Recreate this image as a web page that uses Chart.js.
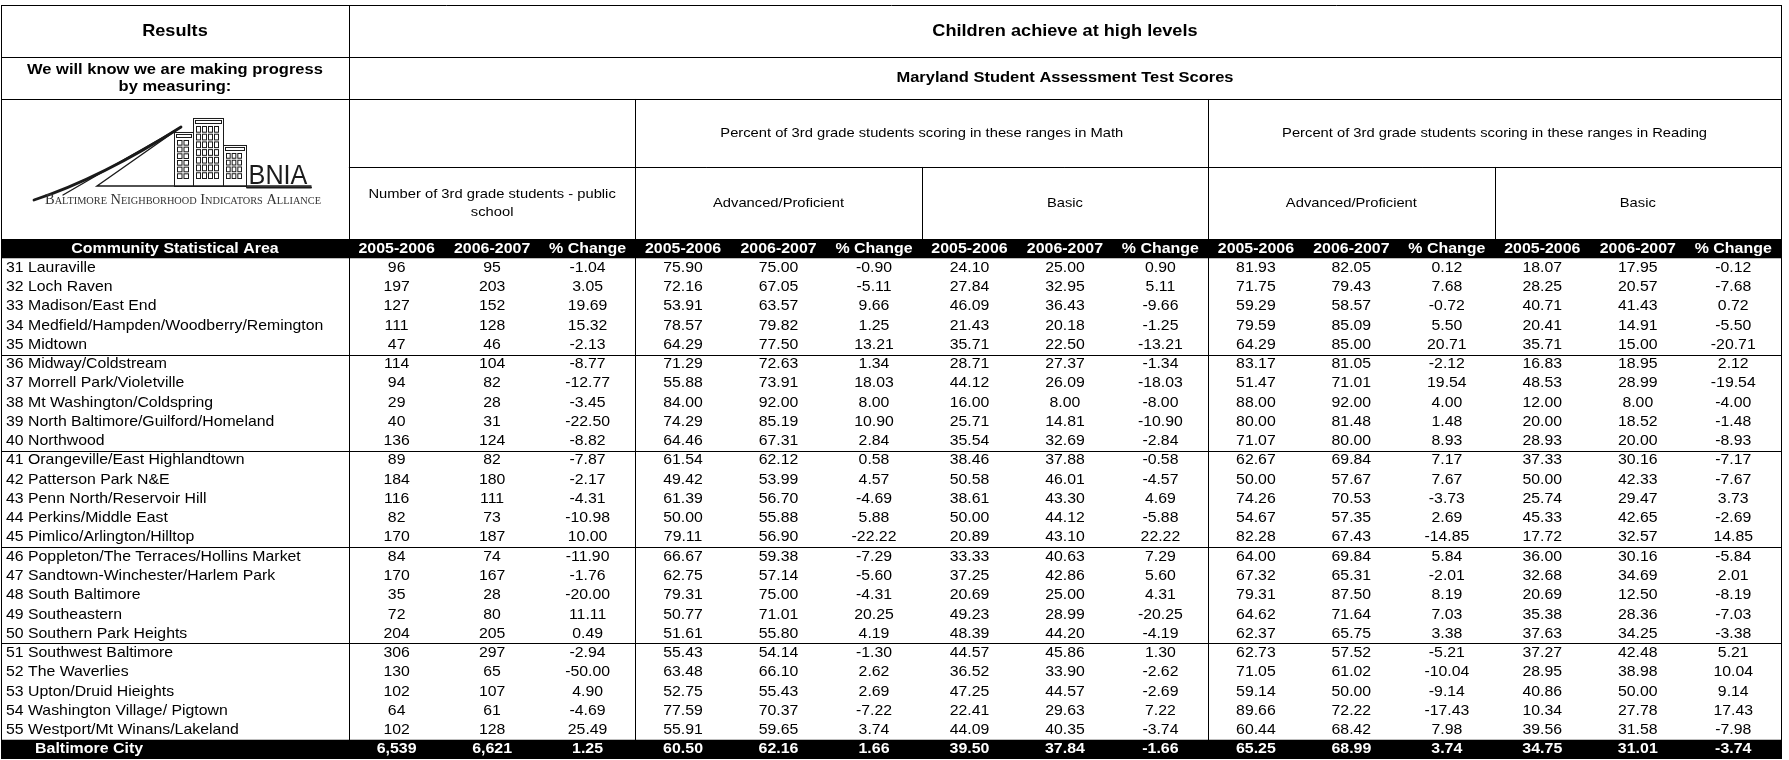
<!DOCTYPE html>
<html>
<head>
<meta charset="utf-8">
<title>Maryland Student Assessment Test Scores</title>
<script src="https://cdn.jsdelivr.net/npm/chart.js@4.4.1/dist/chart.umd.min.js"></script>
<style>
  html, body { margin: 0; padding: 0; background: #fff; }
  canvas { display: block; }
</style>
</head>
<body>
<canvas id="msaTable" width="1789" height="760"></canvas>
<script>
// Community statistical areas (rows)
const csaNames = [
    '31 Lauraville', '32 Loch Raven', '33 Madison/East End',
    '34 Medfield/Hampden/Woodberry/Remington', '35 Midtown',
    '36 Midway/Coldstream', '37 Morrell Park/Violetville', '38 Mt Washington/Coldspring',
    '39 North Baltimore/Guilford/Homeland', '40 Northwood',
    '41 Orangeville/East Highlandtown', '42 Patterson Park N&E', '43 Penn North/Reservoir Hill',
    '44 Perkins/Middle East', '45 Pimlico/Arlington/Hilltop',
    '46 Poppleton/The Terraces/Hollins Market', '47 Sandtown-Winchester/Harlem Park',
    '48 South Baltimore', '49 Southeastern', '50 Southern Park Heights',
    '51 Southwest Baltimore', '52 The Waverlies', '53 Upton/Druid Hieights',
    '54 Washington Village/ Pigtown', '55 Westport/Mt Winans/Lakeland'
];

// Number of 3rd grade students - public school
const students0506 = [96, 197, 127, 111, 47, 114, 94, 29, 40, 136, 89, 184, 116, 82, 170, 84, 170, 35, 72, 204, 306, 130, 102, 64, 102];
const students0607 = [95, 203, 152, 128, 46, 104, 82, 28, 31, 124, 82, 180, 111, 73, 187, 74, 167, 28, 80, 205, 297, 65, 107, 61, 128];
const studentsChange = [-1.04, 3.05, 19.69, 15.32, -2.13, -8.77, -12.77, -3.45, -22.50, -8.82, -7.87, -2.17, -4.31, -10.98, 10.00, -11.90, -1.76, -20.00, 11.11, 0.49, -2.94, -50.00, 4.90, -4.69, 25.49];

// Math - Advanced/Proficient
const mathAdv0506 = [75.90, 72.16, 53.91, 78.57, 64.29, 71.29, 55.88, 84.00, 74.29, 64.46, 61.54, 49.42, 61.39, 50.00, 79.11, 66.67, 62.75, 79.31, 50.77, 51.61, 55.43, 63.48, 52.75, 77.59, 55.91];
const mathAdv0607 = [75.00, 67.05, 63.57, 79.82, 77.50, 72.63, 73.91, 92.00, 85.19, 67.31, 62.12, 53.99, 56.70, 55.88, 56.90, 59.38, 57.14, 75.00, 71.01, 55.80, 54.14, 66.10, 55.43, 70.37, 59.65];
const mathAdvChange = [-0.90, -5.11, 9.66, 1.25, 13.21, 1.34, 18.03, 8.00, 10.90, 2.84, 0.58, 4.57, -4.69, 5.88, -22.22, -7.29, -5.60, -4.31, 20.25, 4.19, -1.30, 2.62, 2.69, -7.22, 3.74];

// Math - Basic
const mathBasic0506 = [24.10, 27.84, 46.09, 21.43, 35.71, 28.71, 44.12, 16.00, 25.71, 35.54, 38.46, 50.58, 38.61, 50.00, 20.89, 33.33, 37.25, 20.69, 49.23, 48.39, 44.57, 36.52, 47.25, 22.41, 44.09];
const mathBasic0607 = [25.00, 32.95, 36.43, 20.18, 22.50, 27.37, 26.09, 8.00, 14.81, 32.69, 37.88, 46.01, 43.30, 44.12, 43.10, 40.63, 42.86, 25.00, 28.99, 44.20, 45.86, 33.90, 44.57, 29.63, 40.35];
const mathBasicChange = [0.90, 5.11, -9.66, -1.25, -13.21, -1.34, -18.03, -8.00, -10.90, -2.84, -0.58, -4.57, 4.69, -5.88, 22.22, 7.29, 5.60, 4.31, -20.25, -4.19, 1.30, -2.62, -2.69, 7.22, -3.74];

// Reading - Advanced/Proficient
const readAdv0506 = [81.93, 71.75, 59.29, 79.59, 64.29, 83.17, 51.47, 88.00, 80.00, 71.07, 62.67, 50.00, 74.26, 54.67, 82.28, 64.00, 67.32, 79.31, 64.62, 62.37, 62.73, 71.05, 59.14, 89.66, 60.44];
const readAdv0607 = [82.05, 79.43, 58.57, 85.09, 85.00, 81.05, 71.01, 92.00, 81.48, 80.00, 69.84, 57.67, 70.53, 57.35, 67.43, 69.84, 65.31, 87.50, 71.64, 65.75, 57.52, 61.02, 50.00, 72.22, 68.42];
const readAdvChange = [0.12, 7.68, -0.72, 5.50, 20.71, -2.12, 19.54, 4.00, 1.48, 8.93, 7.17, 7.67, -3.73, 2.69, -14.85, 5.84, -2.01, 8.19, 7.03, 3.38, -5.21, -10.04, -9.14, -17.43, 7.98];

// Reading - Basic
const readBasic0506 = [18.07, 28.25, 40.71, 20.41, 35.71, 16.83, 48.53, 12.00, 20.00, 28.93, 37.33, 50.00, 25.74, 45.33, 17.72, 36.00, 32.68, 20.69, 35.38, 37.63, 37.27, 28.95, 40.86, 10.34, 39.56];
const readBasic0607 = [17.95, 20.57, 41.43, 14.91, 15.00, 18.95, 28.99, 8.00, 18.52, 20.00, 30.16, 42.33, 29.47, 42.65, 32.57, 30.16, 34.69, 12.50, 28.36, 34.25, 42.48, 38.98, 50.00, 27.78, 31.58];
const readBasicChange = [-0.12, -7.68, 0.72, -5.50, -20.71, 2.12, -19.54, -4.00, -1.48, -8.93, -7.17, -7.67, 3.73, -2.69, 14.85, -5.84, 2.01, -8.19, -7.03, -3.38, 5.21, 10.04, 9.14, 17.43, -7.98];

// Baltimore City totals, same column order
const cityTotals = [6539, 6621, 1.25, 60.50, 62.16, 1.66, 39.50, 37.84, -1.66, 65.25, 68.99, 3.74, 34.75, 31.01, -3.74];

// Header labels
const columnHeaders = ['2005-2006', '2006-2007', '% Change'];
const groupTitles = ['Advanced/Proficient', 'Basic', 'Advanced/Proficient', 'Basic'];
const subjectTitles = [
    'Percent of 3rd grade students scoring in these ranges in Math',
    'Percent of 3rd grade students scoring in these ranges in Reading'
];

const valueColumns = [
    students0506, students0607, studentsChange,
    mathAdv0506, mathAdv0607, mathAdvChange,
    mathBasic0506, mathBasic0607, mathBasicChange,
    readAdv0506, readAdv0607, readAdvChange,
    readBasic0506, readBasic0607, readBasicChange
];

// Layout in scale units: one unit = one numeric column / one table row
const COL0_UNITS = 3.644;
const HEAD_UNITS = 12.15;
const LINE_TITLE = -9.45;
const LINE_SUBTITLE = -7.27;
const LINE_SUBJECT = -3.74;
const ROW_COUNT = csaNames.length + 2;
const FONT = '"Liberation Sans", Arial, sans-serif';
const STRETCH = 1.1;

function formatCell(col, value) {
    if (col < 2) return value.toLocaleString('en-US');
    return value.toFixed(2);
}

function put(ctx, text, x, y, opts = {}) {
    const { size = 14, bold = false, align = 'center', color = '#000', stretch = STRETCH } = opts;
    ctx.save();
    ctx.font = `${bold ? 'bold ' : ''}${size}px ${FONT}`;
    ctx.fillStyle = color;
    ctx.textAlign = align;
    ctx.textBaseline = 'middle';
    ctx.translate(x, y);
    ctx.scale(stretch, 1);
    ctx.fillText(text, 0, 0);
    ctx.restore();
}

function hLine(ctx, x0, x1, y) {
    const yp = Math.round(y) + 0.5;
    ctx.beginPath();
    ctx.moveTo(x0, yp);
    ctx.lineTo(x1, yp);
    ctx.stroke();
}

function vLine(ctx, x, y0, y1) {
    const xp = Math.round(x) + 0.5;
    ctx.beginPath();
    ctx.moveTo(xp, y0);
    ctx.lineTo(xp, y1);
    ctx.stroke();
}

function drawLogo(ctx, left, top) {
    ctx.save();
    ctx.translate(left, top);
    ctx.strokeStyle = '#1a1a1a';
    ctx.fillStyle = '#1a1a1a';
    ctx.lineCap = 'round';

    // swoosh
    ctx.lineWidth = 2.8;
    ctx.beginPath();
    ctx.moveTo(33, 101);
    ctx.quadraticCurveTo(100, 79, 180, 28);
    ctx.stroke();
    ctx.lineWidth = 1.4;
    ctx.beginPath();
    ctx.moveTo(180, 28);
    ctx.quadraticCurveTo(120, 62, 62, 96);
    ctx.stroke();
    ctx.beginPath();
    ctx.moveTo(180, 28);
    ctx.lineTo(96, 87);
    ctx.lineTo(310, 87);
    ctx.stroke();
    ctx.lineWidth = 2;
    hLine(ctx, 246, 310, 88);

    // buildings
    ctx.lineWidth = 1;
    const buildings = [[173, 33, 19, 54, 2, 6], [192, 19, 30, 68, 4, 7], [222, 46, 23, 41, 3, 4]];
    buildings.forEach(([bx, by, bw, bh, cols, rows]) => {
        ctx.strokeRect(bx + 0.5, by + 0.5, bw, bh);
        ctx.strokeRect(bx + 2.5, by + 2.5, bw - 4, 3);
        const ww = (bw - 6) / cols;
        const wh = (bh - 14) / rows;
        for (let r = 0; r < rows; r++) {
            for (let c = 0; c < cols; c++) {
                ctx.strokeRect(bx + 3.5 + c * ww, by + 8.5 + r * wh, ww - 2, wh - 2);
            }
        }
    });

    // lettering
    put(ctx, 'BNIA', 277, 77, { size: 28, color: '#1a1a1a', stretch: 0.9 });
    ctx.font = 'small-caps 14px "Liberation Serif", serif';
    const caption = 'Baltimore Neighborhood Indicators Alliance';
    const w = ctx.measureText(caption).width;
    ctx.save();
    ctx.translate(44, 101);
    ctx.scale(276 / w, 1);
    ctx.textBaseline = 'middle';
    ctx.fillStyle = '#333';
    ctx.fillText(caption, 0, 0);
    ctx.restore();
    ctx.restore();
}

const tablePainter = {
    id: 'tablePainter',
    beforeDatasetsDraw(chart) {
        const { ctx, chartArea: area, scales: { x, y } } = chart;
        const px = v => x.getPixelForValue(v);
        const py = v => y.getPixelForValue(v);
        const L = area.left, R = area.right;
        const c0 = px(0);

        ctx.save();
        drawLogo(ctx, L, py(LINE_SUBTITLE));

        ctx.fillStyle = '#000';
        [0, ROW_COUNT - 1].forEach(r => ctx.fillRect(L, py(r), R - L + 1, py(r + 1) - py(r)));

        ctx.strokeStyle = '#000';
        ctx.lineWidth = 1;
        // outer border
        hLine(ctx, L, R + 1, py(-HEAD_UNITS));
        vLine(ctx, L, py(-HEAD_UNITS), py(ROW_COUNT));
        vLine(ctx, R, py(-HEAD_UNITS), py(ROW_COUNT));
        // header rules
        hLine(ctx, L, R, py(LINE_TITLE));
        hLine(ctx, L, R, py(LINE_SUBTITLE));
        hLine(ctx, c0, R, py(LINE_SUBJECT));
        vLine(ctx, c0, py(-HEAD_UNITS), py(ROW_COUNT));
        [3, 9].forEach(c => vLine(ctx, px(c), py(LINE_SUBTITLE), py(ROW_COUNT)));
        [6, 12].forEach(c => vLine(ctx, px(c), py(LINE_SUBJECT), py(0)));
        // row group rules
        [6, 11, 16, 21].forEach(r => hLine(ctx, L, R, py(r)));

        // header texts
        const midY = (a, b) => (py(a) + py(b)) / 2;
        const midX = (a, b) => (px(a) + px(b)) / 2;
        const titleY = midY(-HEAD_UNITS, LINE_TITLE);
        put(ctx, 'Results', midX(-COL0_UNITS, 0), titleY, { size: 16.5, bold: true });
        put(ctx, 'Children achieve at high levels', midX(0, 15), titleY, { size: 16.5, bold: true });
        const subY = midY(LINE_TITLE, LINE_SUBTITLE);
        put(ctx, 'We will know we are making progress', midX(-COL0_UNITS, 0), subY - 8, { size: 15, bold: true });
        put(ctx, 'by measuring:', midX(-COL0_UNITS, 0), subY + 9, { size: 15, bold: true });
        put(ctx, 'Maryland Student Assessment Test Scores', midX(0, 15), subY, { size: 15, bold: true });
        const subjY = midY(LINE_SUBTITLE, LINE_SUBJECT);
        subjectTitles.forEach((t, i) => put(ctx, t, midX(3 + i * 6, 9 + i * 6), subjY, { size: 13.4 }));
        const grpY = midY(LINE_SUBJECT, 0);
        put(ctx, 'Number of 3rd grade students - public', midX(0, 3), grpY - 9, { size: 13.4 });
        put(ctx, 'school', midX(0, 3), grpY + 9, { size: 13.4 });
        groupTitles.forEach((t, i) => put(ctx, t, midX(3 + i * 3, 6 + i * 3), grpY, { size: 13.4 }));
        ctx.restore();
    },
    afterDatasetsDraw(chart) {
        const { ctx, scales: { x } } = chart;
        const nameLeft = x.getPixelForValue(-COL0_UNITS);
        chart.data.datasets.forEach((ds, d) => {
            const meta = chart.getDatasetMeta(d);
            meta.data.forEach((pt, i) => {
                const text = ds.cellText[i];
                const edge = i === 0 || i === ROW_COUNT - 1;
                const opts = edge ? { size: 14.5, bold: true, color: '#fff' } : { size: 14.4 };
                if (d === 0 && i > 0) {
                    put(ctx, text, nameLeft + (edge ? 34 : 5), pt.y, { ...opts, align: 'left' });
                } else {
                    put(ctx, text, pt.x, pt.y, opts);
                }
            });
        });
    }
};

const nameColumn = ['Community Statistical Area', ...csaNames, 'Baltimore City'];
const datasets = [{
    label: 'Community Statistical Area',
    cellText: nameColumn,
    data: nameColumn.map((_, r) => ({ x: -COL0_UNITS / 2, y: r + 0.5 }))
}];
valueColumns.forEach((values, c) => {
    const texts = [columnHeaders[c % 3], ...values.map(v => formatCell(c, v)), formatCell(c, cityTotals[c])];
    datasets.push({
        label: columnHeaders[c % 3],
        cellText: texts,
        data: texts.map((_, r) => ({ x: c + 0.5, y: r + 0.5 }))
    });
});

new Chart(document.getElementById('msaTable'), {
    type: 'scatter',
    data: { datasets },
    options: {
        responsive: false,
        animation: false,
        events: [],
        layout: { padding: { left: 1, right: 8, top: 5, bottom: 1 } },
        elements: { point: { radius: 0, hoverRadius: 0 } },
        scales: {
            x: { type: 'linear', min: -COL0_UNITS, max: 15, display: false },
            y: { type: 'linear', min: -HEAD_UNITS, max: ROW_COUNT, reverse: true, display: false }
        },
        plugins: { legend: { display: false }, tooltip: { enabled: false } }
    },
    plugins: [tablePainter]
});
</script>
</body>
</html>
